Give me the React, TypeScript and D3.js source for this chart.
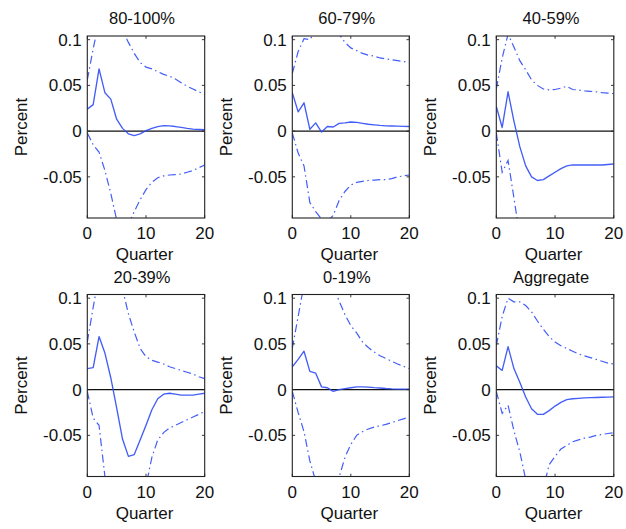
import React from "react";
import * as d3 from "d3";

// Impulse responses (percent) by quarter, with upper / lower error bands
const quarters = [0, 1, 2, 3, 4, 5, 6, 7, 8, 9, 10, 11, 12, 13, 14, 15, 16, 17, 18, 19, 20];

const titles = ["80-100%", "60-79%", "40-59%", "20-39%", "0-19%", "Aggregate"];

const mid80 = [0.024, 0.029, 0.068, 0.042, 0.035, 0.013, 0.003, -0.003, -0.005, -0.003, 0.0005, 0.003, 0.005, 0.006, 0.0058, 0.005, 0.004, 0.003, 0.0022, 0.0018, 0.0015];
const hi80 = [0.056, 0.09, 0.12, 0.135, 0.135, 0.125, 0.11, 0.097, 0.085, 0.075, 0.07, 0.068, 0.065, 0.062, 0.06, 0.057, 0.053, 0.049, 0.046, 0.043, 0.04];
const lo80 = [-0.002, -0.015, -0.023, -0.043, -0.068, -0.097, -0.11, -0.102, -0.088, -0.075, -0.064, -0.056, -0.051, -0.049, -0.048, -0.0475, -0.047, -0.045, -0.043, -0.04, -0.037];

const mid60 = [0.042, 0.021, 0.031, 0.002, 0.009, -0.001, 0.005, 0.0045, 0.0085, 0.009, 0.01, 0.0095, 0.0085, 0.0075, 0.0068, 0.0062, 0.0058, 0.0056, 0.0054, 0.0052, 0.005];
const hi60 = [0.063, 0.087, 0.101, 0.1, 0.11, 0.118, 0.12, 0.115, 0.106, 0.097, 0.091, 0.088, 0.085, 0.083, 0.082, 0.08, 0.079, 0.078, 0.077, 0.076, 0.075];
const lo60 = [-0.002, -0.024, -0.038, -0.078, -0.088, -0.096, -0.099, -0.092, -0.076, -0.066, -0.059, -0.056, -0.055, -0.054, -0.0535, -0.053, -0.053, -0.052, -0.05, -0.049, -0.048];

const mid40 = [0.027, 0.004, 0.043, 0.011, -0.017, -0.038, -0.05, -0.054, -0.053, -0.049, -0.045, -0.041, -0.038, -0.037, -0.037, -0.037, -0.037, -0.037, -0.037, -0.0365, -0.036];
const hi40 = [0.046, 0.08, 0.106, 0.092, 0.077, 0.067, 0.056, 0.05, 0.046, 0.045, 0.0455, 0.047, 0.049, 0.0455, 0.045, 0.044, 0.0435, 0.043, 0.042, 0.0415, 0.041];
const lo40 = [-0.002, -0.045, -0.032, -0.073, -0.115, -0.13, -0.14, -0.14, -0.135, -0.13, -0.125, -0.12, -0.115, -0.11, -0.108, -0.106, -0.104, -0.103, -0.102, -0.101, -0.1];

const mid20 = [0.023, 0.024, 0.058, 0.04, 0.013, -0.02, -0.054, -0.073, -0.071, -0.055, -0.039, -0.022, -0.01, -0.005, -0.004, -0.005, -0.006, -0.006, -0.006, -0.005, -0.004];
const hi20 = [0.052, 0.09, 0.125, 0.14, 0.14, 0.13, 0.11, 0.083, 0.063, 0.045, 0.036, 0.032, 0.03, 0.028, 0.025, 0.023, 0.021, 0.019, 0.017, 0.014, 0.012];
const lo20 = [-0.002, -0.031, -0.039, -0.095, -0.12, -0.14, -0.15, -0.15, -0.14, -0.125, -0.105, -0.074, -0.055, -0.047, -0.042, -0.039, -0.036, -0.033, -0.03, -0.027, -0.024];

const mid0 = [0.025, 0.033, 0.042, 0.02, 0.018, 0.003, 0.002, -0.002, 0, 0.001, 0.002, 0.003, 0.003, 0.0028, 0.0022, 0.0018, 0.0012, 0.0008, 0.0006, 0.0005, 0.0004];
const hi0 = [0.045, 0.08, 0.115, 0.13, 0.135, 0.13, 0.122, 0.113, 0.097, 0.082, 0.07, 0.062, 0.052, 0.046, 0.041, 0.037, 0.034, 0.031, 0.028, 0.0255, 0.023];
const lo0 = [-0.002, -0.025, -0.046, -0.078, -0.1, -0.115, -0.12, -0.115, -0.096, -0.074, -0.06, -0.05, -0.046, -0.043, -0.041, -0.0395, -0.038, -0.036, -0.034, -0.032, -0.03];

const midAgg = [0.026, 0.021, 0.047, 0.023, 0.008, -0.008, -0.021, -0.027, -0.027, -0.023, -0.018, -0.014, -0.011, -0.01, -0.0095, -0.009, -0.0088, -0.0086, -0.0084, -0.0082, -0.008];
const hiAgg = [0.048, 0.08, 0.1, 0.096, 0.096, 0.092, 0.085, 0.075, 0.066, 0.058, 0.052, 0.048, 0.045, 0.042, 0.039, 0.037, 0.035, 0.033, 0.031, 0.029, 0.028];
const loAgg = [-0.002, -0.026, -0.017, -0.045, -0.068, -0.098, -0.115, -0.115, -0.108, -0.082, -0.073, -0.065, -0.061, -0.057, -0.055, -0.053, -0.052, -0.05, -0.049, -0.048, -0.047];

const xTicks = [0, 10, 20];
const yTicks = [-0.05, 0, 0.05, 0.1];
const yTickLabels = ["-0.05", "0", "0.05", "0.1"];

const panels = [
  { title: titles[0], mid: mid80, hi: hi80, lo: lo80 },
  { title: titles[1], mid: mid60, hi: hi60, lo: lo60 },
  { title: titles[2], mid: mid40, hi: hi40, lo: lo40 },
  { title: titles[3], mid: mid20, hi: hi20, lo: lo20 },
  { title: titles[4], mid: mid0, hi: hi0, lo: lo0 },
  { title: titles[5], mid: midAgg, hi: hiAgg, lo: loAgg },
];

const W = 626;
const H = 529;
const colBounds = [
  [87.3, 204.7],
  [292.3, 409.3],
  [496.3, 613.8],
];
const rowBounds = [
  [36, 218],
  [294.5, 476.5],
];
const Y_DOMAIN: [number, number] = [-0.095, 0.104];
const LINE = "#2f4cf6";
const FONT = "'Liberation Sans', Arial, Helvetica, sans-serif";
const FS = 17;
const FS_TITLE = 16.5;

function Panel({ idx, p }: { idx: number; p: (typeof panels)[number] }) {
  const [x0, x1] = colBounds[idx % 3];
  const [y0, y1] = rowBounds[Math.floor(idx / 3)];
  const x = d3.scaleLinear().domain([0, 20]).range([x0, x1]);
  const y = d3.scaleLinear().domain(Y_DOMAIN).range([y1, y0]);
  const line = d3
    .line<number>()
    .x((_, i) => x(quarters[i]))
    .y((v) => y(v));
  const clipId = `clip-${idx}`;
  const cx = (x0 + x1) / 2;
  const cy = (y0 + y1) / 2;
  const tl = 2.8;
  return (
    <g>
      <defs>
        <clipPath id={clipId}>
          <rect x={x0} y={y0} width={x1 - x0} height={y1 - y0} />
        </clipPath>
      </defs>
      <rect x={x0} y={y0} width={x1 - x0} height={y1 - y0} fill="#fff" />
      <g clipPath={`url(#${clipId})`} fill="none">
        <line x1={x0} x2={x1} y1={y(0)} y2={y(0)} stroke="#111" strokeWidth={1.4} />
        <path d={line(p.hi) || ""} stroke={LINE} strokeWidth={1.2} strokeDasharray="8,3.5,1.5,3.5" opacity={0.9} />
        <path d={line(p.lo) || ""} stroke={LINE} strokeWidth={1.2} strokeDasharray="8,3.5,1.5,3.5" opacity={0.9} />
        <path d={line(p.mid) || ""} stroke={LINE} strokeWidth={1.35} strokeLinejoin="round" opacity={0.9} />
      </g>
      {/* ticks on all four sides, pointing inward */}
      {xTicks.map((t) => (
        <g key={`xt${t}`} stroke="#222" strokeWidth={0.9}>
          <line x1={x(t)} x2={x(t)} y1={y1} y2={y1 - tl} />
          <line x1={x(t)} x2={x(t)} y1={y0} y2={y0 + tl} />
        </g>
      ))}
      {yTicks.map((t) => (
        <g key={`yt${t}`} stroke="#222" strokeWidth={0.9}>
          <line x1={x0} x2={x0 + tl} y1={y(t)} y2={y(t)} />
          <line x1={x1} x2={x1 - tl} y1={y(t)} y2={y(t)} />
        </g>
      ))}
      <rect x={x0} y={y0} width={x1 - x0} height={y1 - y0} fill="none" stroke="#222" strokeWidth={1.1} />
      <g fontFamily={FONT} fontSize={FS} fill="#111">
        {xTicks.map((t) => (
          <text key={`xl${t}`} x={x(t)} y={y1 + 21} textAnchor="middle">
            {t}
          </text>
        ))}
        {yTicks.map((t, i) => (
          <text key={`yl${t}`} x={x0 - 5.5} y={y(t) + 6} textAnchor="end">
            {yTickLabels[i]}
          </text>
        ))}
        <text x={cx - 4} y={y0 - 12} textAnchor="middle" fontSize={FS_TITLE}>
          {p.title}
        </text>
        <text x={cx - 1.5} y={y1 + 42} textAnchor="middle">
          Quarter
        </text>
        <text
          transform={`translate(${x0 - 60.5},${cy}) rotate(-90)`}
          textAnchor="middle"
        >
          Percent
        </text>
      </g>
    </g>
  );
}

export default function App() {
  return (
    <svg
      width={W}
      height={H}
      viewBox={`0 0 ${W} ${H}`}
      style={{ position: "absolute", left: 0, top: 0, background: "#fff" }}
    >
      <rect width={W} height={H} fill="#fff" />
      {panels.map((p, i) => (
        <Panel key={p.title} idx={i} p={p} />
      ))}
    </svg>
  );
}
